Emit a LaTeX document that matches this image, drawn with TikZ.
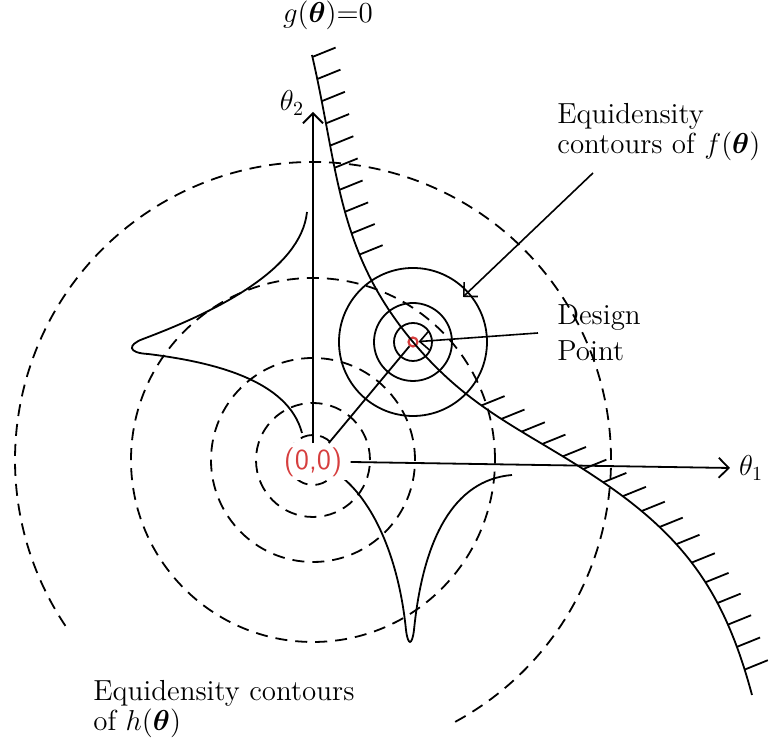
\documentclass[tikz,border=0pt]{standalone}
\usepackage{amsmath}
\usepackage{tikz}
\usetikzlibrary{positioning, arrows.meta, decorations.markings}
\definecolor{ptred}{RGB}{214,62,62}

\begin{document}
\begin{tikzpicture}[x=0.5pt, y=0.5pt, >={Straight Barb[length=5pt,width=10pt]},
      font=\fontsize{14.5}{15}\selectfont,
      contour/.style={dash pattern=on 6pt off 4pt, line width=0.9pt},
      fcirc/.style={line width=0.9pt},
      curve/.style={line width=0.9pt},
      axis/.style={->, line width=0.9pt},
      pointer/.style={->, line width=0.8pt},
      lbl/.style={inner sep=0pt, align=left},
      hatch/.style={postaction={decorate}, decoration={markings,
        mark=between positions 1pt and 104pt step 11.3pt with
          {\pgftransformresetnontranslations \draw[line width=0.9pt] (0,0) -- (22:25);},
        mark=between positions 201pt and 398pt step 12pt with
          {\pgftransformresetnontranslations \draw[line width=0.9pt] (0,0) -- (22:25);}}}]
    \useasboundingbox (-313,-287) rectangle (471,460);
    \coordinate (o) at (0,0);
    % equidensity contours of h
    \foreach \r in {25,57,102,182}
      \draw[contour] (o) circle[radius=\r];
    \draw[contour] (-61.5:298) arc[start angle=-61.5, end angle=213.9, radius=298];
    % equidensity contours of f around the design point
    \node[circle, draw=ptred, line width=1.1pt, minimum size=4.5pt, inner sep=0pt] (dp) at (100,118) {};
    \foreach \r in {19,39,74}
      \draw[fcirc] (dp.center) circle[radius=\r];
    % limit state g = 0
    \draw[curve, hatch] (-1,405) to[out=-77, in=130] (dp.center)
      to[out=-50, in=145] (297,-27) to[out=-35, in=105] (439,-235);
    \node (glabel) at (15,445) {$g(\boldsymbol{\theta})$=0};
    % marginal densities
    \draw[curve] (-6,248) .. controls (-12,190) and (-98,148) .. (-170,121)
      .. controls (-186,115) and (-185,107) .. (-165,106)
      .. controls (-100,98) and (-25,80) .. (-11,27);
    \draw[curve] (30,-18) .. controls (62,-45) and (86,-100) .. (93,-170)
      .. controls (95,-186) and (99,-186) .. (101,-170)
      .. controls (110,-80) and (140,-20) .. (199,-15);
    % axes
    \node[lbl, text=ptred, font=\fontsize{14.5}{15}\selectfont\sffamily, fill=white,
      inner xsep=4pt, inner ysep=2pt] (origin) at (0,-2) {(0,0)};
    \coordinate (t2tip) at (0,348);
    \coordinate (t1tip) at (417,-8);
    \draw[axis] (origin.north) -- (t2tip);
    \draw[axis] (origin.east) -- (t1tip);
    \node (t2) at (-21,357) {$\theta_2$};
    \node[right=1pt of t1tip] (t1) {$\theta_1$};
    \draw[line width=0.9pt] (origin) -- (dp);
    % labels
    \node[lbl, anchor=west] (fnote) at (244,328) {Equidensity\\contours of $f(\boldsymbol{\theta})$};
    \node[lbl, anchor=west] (dnote) at (244,127) {Design\\[3pt]Point};
    \node[lbl, anchor=west] (hnote) at (-220,-249) {Equidensity contours\\of $h(\boldsymbol{\theta})$};
    \coordinate (fstart) at (280,287);
    \coordinate (ftip) at (150,163);
    \coordinate (dstart) at (225,127);
    \draw[pointer] (fstart) -- (ftip);
    \draw[pointer] (dstart) -- (dp);
  \end{tikzpicture}
\end{document}
